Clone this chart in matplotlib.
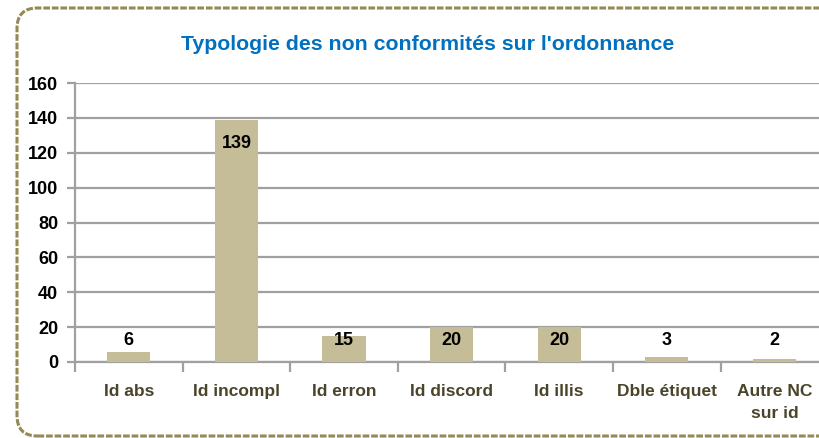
import matplotlib

matplotlib.use("Agg")
import matplotlib.pyplot as plt
import numpy as np
from matplotlib.patches import FancyBboxPatch

categories = ["Id abs", "Id incompl", "Id erron", "Id discord", "Id illis", "Dble étiquet", "Autre NC\nsur id"]
counts = [6, 139, 15, 20, 20, 3, 2]
yticks = [0, 20, 40, 60, 80, 100, 120, 140, 160]

plt.rcParams["font.family"] = ["Liberation Sans", "DejaVu Sans"]

W, H = 820, 438
fig = plt.figure(figsize=(W / 100, H / 100), dpi=100)

# dashed rounded frame (runs off the right edge)
frame = FancyBboxPatch((17 / W, 2 / H), 900 / W, 428 / H, transform=fig.transFigure,
                       boxstyle="round,pad=0,rounding_size=0.025", fill=False,
                       edgecolor="#948A54", linewidth=2.2, linestyle=(0, (2.2, 0.6)),
                       mutation_aspect=W / H)
fig.patches.append(frame)

ax = fig.add_axes([75 / W, 1 - 362 / H, (W - 75) / W + 0.01, (362 - 83) / H])
x = np.arange(len(categories))
ax.bar(x, counts, width=0.4, color="#C4BD97", zorder=3)
ax.set_xlim(-0.5, len(categories) - 0.5)
ax.set_ylim(0, 160)
ax.set_yticks(yticks)
ax.yaxis.grid(True, color="#A0A0A0", linewidth=1.6, zorder=0)
for s in ("top", "right"):
    ax.spines[s].set_visible(False)
for s in ("left", "bottom"):
    ax.spines[s].set_color("#A0A0A0")
    ax.spines[s].set_linewidth(1.6)
ax.tick_params(axis="y", length=6, width=1.6, color="#A0A0A0", labelsize=13, pad=6)
for t in ax.get_yticklabels():
    t.set_fontweight("bold")

ax.set_xticks(x)
ax.set_xticklabels(categories, fontsize=12.5, fontweight="bold", color="#4A452A", linespacing=1.55)
ax.tick_params(axis="x", which="major", length=0, pad=16)
ax.set_xticks(np.arange(len(categories) + 1) - 0.5, minor=True)
ax.tick_params(axis="x", which="minor", length=7, width=1.6, color="#A0A0A0")

for xi, v in zip(x, counts):
    ypos = v - 13.5 if v > 30 else 12.5
    ax.text(xi, ypos, str(v), ha="center", va="center", fontsize=13, fontweight="bold",
            color="black", zorder=4)

fig.text(0.522, 1 - 44 / H, "Typologie des non conformités sur l'ordonnance", ha="center", va="center",
         fontsize=15.3, fontweight="bold", color="#0070C0")

fig.savefig("out.png", dpi=100)
